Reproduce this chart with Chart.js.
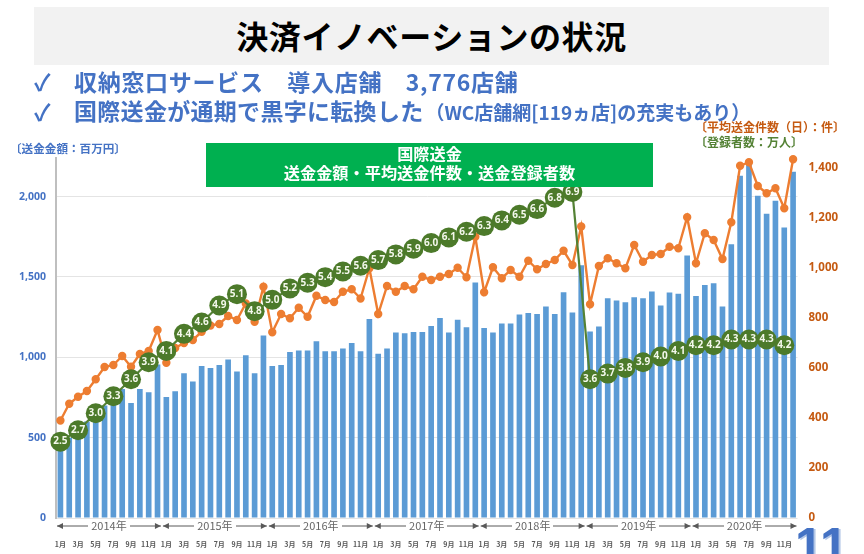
<!DOCTYPE html>
<html lang="ja">
<head>
<meta charset="utf-8">
<title>決済イノベーションの状況</title>
<script src="https://cdn.jsdelivr.net/npm/chart.js@4"></script>
<style>
  html, body { margin: 0; padding: 0; background: #fff; }
  body { width: 864px; height: 554px; position: relative; overflow: hidden;
         font-family: "Noto Sans CJK JP", "Noto Sans", sans-serif; font-weight: 700; }
  canvas { position: absolute; left: 0; top: 0; }
  .abs { position: absolute; white-space: nowrap; line-height: 1; }
  #title-bar { position: absolute; left: 34px; top: 7px; width: 795px; height: 58px; background: #f2f2f2;
               text-align: center; font-size: 32px; line-height: 57px; color: #000; letter-spacing: 0.6px; }
  .bullet { color: #4472c4; font-size: 23px; }
  #green-box { position: absolute; left: 206px; top: 143px; width: 447px; height: 44px; background: #00b050;
               color: #fff; text-align: center; font-size: 16.2px; line-height: 19px; padding-top: 1px; box-sizing: border-box; z-index: 1; }
  #page-no { left: 795px; top: 521px; font-family: "Liberation Sans", sans-serif; font-size: 50px; color: #4472c4;
             text-shadow: 2px 1px 0 #b4c7e7; z-index: 3; }
</style>
</head>
<body>
<canvas id="chart" width="864" height="554"></canvas>
<div id="title-bar">決済イノベーションの状況</div>
<div class="abs bullet" style="left:34px;top:70px">✓</div>
<div class="abs bullet" style="left:74px;top:70px;letter-spacing:0.7px">収納窓口サービス　導入店舗　3,776店舗</div>
<div class="abs bullet" style="left:34px;top:100px">✓</div>
<div class="abs bullet" style="left:74px;top:99px;letter-spacing:0.3px">国際送金が通期で黒字に転換した<span style="font-size:19px;letter-spacing:0;margin-left:2px">（WC店舗網[119ヵ店]の充実もあり）</span></div>
<div class="abs" style="left:10px;top:143px;font-size:11.6px;color:#4472c4">〔送金金額：百万円〕</div>
<div class="abs" style="left:695px;top:121px;font-size:12px;color:#c55a11">〔平均送金件数（日）：件〕</div>
<div class="abs" style="left:695px;top:136px;font-size:12px;color:#548235">〔登録者数：万人〕</div>
<div id="green-box">国際送金<br>送金金額・平均送金件数・送金登録者数</div>
<div class="abs" id="page-no">11</div>

<script>
// Data
const yearNames = ['2014年', '2015年', '2016年', '2017年', '2018年', '2019年', '2020年'];
const monthNames = ['1月', '2月', '3月', '4月', '5月', '6月', '7月', '8月', '9月', '10月', '11月', '12月'];
const amountTicks = [0, 500, 1000, 1500, 2000];
const countTicks = [0, 200, 400, 600, 800, 1000, 1200, 1400];

const remittanceAmount = [
  480, 500, 540, 600, 650, 700, 740, 803, 716, 803, 782, 955,
  753, 789, 900, 849, 946, 934, 952, 986, 911, 1012, 900, 1136,
  946, 952, 1033, 1042, 1042, 1100, 1038, 1038, 1054, 1089, 1038, 1239,
  1022, 1054, 1154, 1150, 1158, 1158, 1195, 1245, 1154, 1233, 1187, 1465,
  1183, 1154, 1210, 1210, 1266, 1276, 1270, 1316, 1270, 1405, 1279, 1572,
  1160, 1191, 1368, 1353, 1343, 1374, 1368, 1409, 1322, 1403, 1395, 1633,
  1382, 1450, 1461, 1316, 1704, 2129, 2198, 2005, 1893, 1974, 1808, 2155
];

const avgRemittances = [
  390, 457, 485, 508, 555, 604, 612, 648, 605, 656, 668, 752,
  621, 680, 700, 712, 745, 770, 776, 808, 792, 858, 785, 925,
  743, 816, 799, 841, 805, 889, 872, 864, 905, 915, 878, 999,
  816, 928, 905, 928, 915, 965, 952, 965, 976, 1001, 963, 1125,
  903, 1003, 959, 992, 965, 1029, 995, 1016, 1032, 1069, 1012, 1166,
  855, 1008, 1039, 1019, 999, 1092, 1025, 1052, 1056, 1085, 1079, 1203,
  1019, 1139, 1112, 1036, 1183, 1409, 1423, 1328, 1299, 1319, 1239, 1435
];

// only every second month carries a reading
const registrants = [
  2.5, null, 2.7, null, 3.0, null, 3.3, null, 3.6, null, 3.9, null,
  4.1, null, 4.4, null, 4.6, null, 4.9, null, 5.1, null, 4.8, null,
  5.0, null, 5.2, null, 5.3, null, 5.4, null, 5.5, null, 5.6, null,
  5.7, null, 5.8, null, 5.9, null, 6.0, null, 6.1, null, 6.2, null,
  6.3, null, 6.4, null, 6.5, null, 6.6, null, 6.8, null, 6.9, null,
  3.6, null, 3.7, null, 3.8, null, 3.9, null, 4.0, null, 4.1, null,
  4.2, null, 4.2, null, 4.3, null, 4.3, null, 4.3, null, 4.2, null
];

const categories = [];
yearNames.forEach(y => monthNames.forEach(m => categories.push(y + m)));

// White numbers inside the green circles
const circleLabels = {
  id: 'circleLabels',
  afterDatasetsDraw(chart) {
    const ctx = chart.ctx;
    const meta = chart.getDatasetMeta(2);
    ctx.save();
    ctx.font = '700 10px "Noto Sans", sans-serif';
    ctx.fillStyle = '#f4f8ec';
    ctx.textAlign = 'center';
    ctx.textBaseline = 'middle';
    registrants.forEach((v, i) => {
      if (v === null) return;
      ctx.fillText(v.toFixed(1), meta.data[i].x, meta.data[i].y);
    });
    ctx.restore();
  }
};

// The "<-- 2014年 -->" row under the bars
const yearSpans = {
  id: 'yearSpans',
  afterDraw(chart) {
    const ctx = chart.ctx;
    const x = chart.scales.x;
    const y = chart.chartArea.bottom + 8;
    const half = (x.getPixelForValue(1) - x.getPixelForValue(0)) / 2;
    ctx.save();
    ctx.strokeStyle = '#595959';
    ctx.lineWidth = 1;
    yearNames.forEach((name, i) => {
      const left = x.getPixelForValue(i * 12) - half + 1;
      const right = x.getPixelForValue(i * 12 + 11) + half - 1;
      ctx.fillStyle = '#595959';
      ctx.beginPath();
      ctx.moveTo(left, y);
      ctx.lineTo(right, y);
      ctx.stroke();
      ctx.beginPath();
      ctx.moveTo(left, y);
      ctx.lineTo(left + 6, y - 3);
      ctx.lineTo(left + 6, y + 3);
      ctx.closePath();
      ctx.moveTo(right, y);
      ctx.lineTo(right - 6, y - 3);
      ctx.lineTo(right - 6, y + 3);
      ctx.closePath();
      ctx.fill();
      const mid = (left + right) / 2;
      ctx.font = '400 11px "Noto Sans CJK JP", sans-serif';
      const w = ctx.measureText(name).width + 6;
      ctx.clearRect(mid - w / 2, y - 7, w, 14);
      ctx.textAlign = 'center';
      ctx.textBaseline = 'middle';
      ctx.fillStyle = '#666666';
      ctx.fillText(name, mid, y);
    });
    ctx.restore();
  }
};

new Chart(document.getElementById('chart'), {
  type: 'bar',
  data: {
    labels: categories,
    datasets: [
      {
        type: 'bar', data: remittanceAmount, yAxisID: 'y', order: 3,
        backgroundColor: '#5b9bd5', barPercentage: 0.64, categoryPercentage: 1
      },
      {
        type: 'line', data: avgRemittances, yAxisID: 'yCount', order: 2,
        borderColor: '#ed7d31', backgroundColor: '#ed7d31', borderWidth: 2.4,
        pointRadius: 3, tension: 0, clip: false
      },
      {
        type: 'line', data: registrants, yAxisID: 'yUsers', order: 1,
        borderColor: '#548235', backgroundColor: '#4c7a2a', borderWidth: 2.2,
        pointRadius: 10, pointBorderWidth: 0, spanGaps: true, tension: 0, clip: false
      }
    ]
  },
  options: {
    responsive: false,
    animation: false,
    layout: { padding: { top: 158, left: 0, right: 0, bottom: 0 } },
    plugins: { legend: { display: false }, tooltip: { enabled: false } },
    scales: {
      x: {
        grid: { display: false },
        border: { display: false },
        afterFit: s => { s.height = 36; },
        ticks: {
          autoSkip: false, maxRotation: 0, padding: 14, color: '#595959',
          font: { size: 7, weight: '700', family: '"Noto Sans CJK JP", sans-serif' },
          callback: (v, i) => i % 2 === 0 ? monthNames[i % 12] : ''
        }
      },
      y: {
        position: 'left', min: 0, max: 2240,
        afterFit: s => { s.width = 56; },
        afterBuildTicks: s => { s.ticks = amountTicks.map(value => ({ value })); },
        border: { display: true, color: '#bfbfbf', width: 2 },
        grid: { color: '#e4e4e4', drawTicks: false, lineWidth: 1 },
        ticks: {
          autoSkip: false, padding: 10, color: '#4472c4',
          font: { size: 10.5, weight: '700', family: '"Noto Sans", sans-serif' },
          callback: v => v.toLocaleString('en-US')
        }
      },
      yCount: {
        position: 'right', min: 0, max: 1440,
        afterFit: s => { s.width = 66.5; },
        afterBuildTicks: s => { s.ticks = countTicks.map(value => ({ value })); },
        border: { display: false },
        grid: { display: false },
        ticks: {
          autoSkip: false, padding: 3, color: '#c55a11',
          font: { size: 11.5, weight: '700', family: '"Noto Sans", sans-serif' },
          callback: v => v.toLocaleString('en-US')
        }
      },
      yUsers: { display: false, min: 1.154, max: 7.5 }
    }
  },
  plugins: [circleLabels, yearSpans]
});
</script>
</body>
</html>
